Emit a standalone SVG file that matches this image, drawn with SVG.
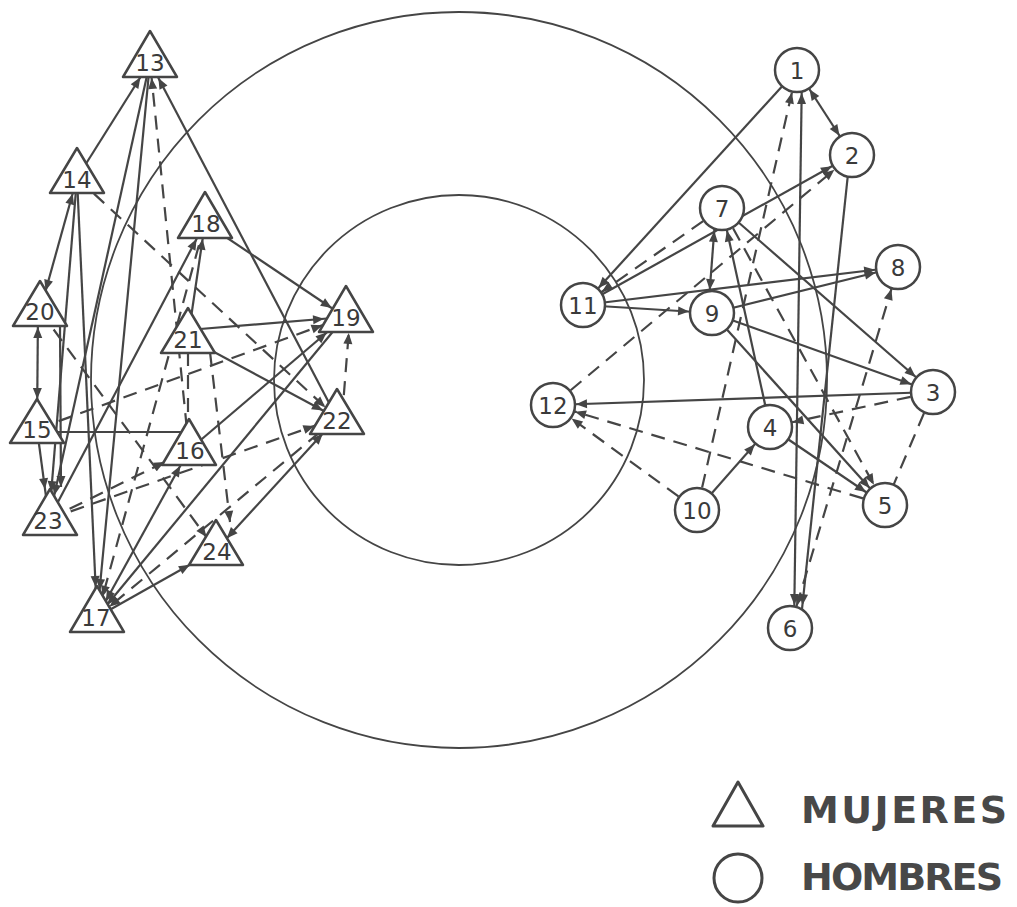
<svg xmlns="http://www.w3.org/2000/svg" width="1017" height="907" viewBox="0 0 1017 907">
<style>
.s{stroke:#454545;stroke-width:2.2;fill:none}
.d{stroke:#454545;stroke-width:2.2;fill:none;stroke-dasharray:14 9}
.ring{stroke:#454545;stroke-width:1.8;fill:none}
.nc{fill:#fff;stroke:#454545;stroke-width:2.5}
.nt{fill:#fff;stroke:#454545;stroke-width:2.5;stroke-linejoin:round}
.lb{font-family:"DejaVu Sans",sans-serif;font-size:23px;fill:#3a3a3a;text-anchor:middle}
.lg{font-family:"DejaVu Sans","Liberation Sans",sans-serif;font-weight:bold;font-size:38px;fill:#484848}
</style>
<defs>
<marker id="c" markerUnits="userSpaceOnUse" orient="auto-start-reverse" refX="23" refY="0" overflow="visible"><path d="M0,0 L-11,-4.5 L-11,4.5 Z" fill="#454545"/></marker>
<marker id="a0" markerUnits="userSpaceOnUse" orient="auto-start-reverse" refX="0" refY="0" overflow="visible"><path d="M0,0 L-11,-4.5 L-11,4.5 Z" fill="#454545"/></marker>
<marker id="t15" markerUnits="userSpaceOnUse" orient="auto-start-reverse" refX="16" refY="0" overflow="visible"><path d="M0,0 L-11,-4.5 L-11,4.5 Z" fill="#454545"/></marker>
<marker id="t17" markerUnits="userSpaceOnUse" orient="auto-start-reverse" refX="18" refY="0" overflow="visible"><path d="M0,0 L-11,-4.5 L-11,4.5 Z" fill="#454545"/></marker>
<marker id="t20" markerUnits="userSpaceOnUse" orient="auto-start-reverse" refX="21" refY="0" overflow="visible"><path d="M0,0 L-11,-4.5 L-11,4.5 Z" fill="#454545"/></marker>
<marker id="t23" markerUnits="userSpaceOnUse" orient="auto-start-reverse" refX="24" refY="0" overflow="visible"><path d="M0,0 L-11,-4.5 L-11,4.5 Z" fill="#454545"/></marker>
<marker id="t26" markerUnits="userSpaceOnUse" orient="auto-start-reverse" refX="27" refY="0" overflow="visible"><path d="M0,0 L-11,-4.5 L-11,4.5 Z" fill="#454545"/></marker>
<marker id="t29" markerUnits="userSpaceOnUse" orient="auto-start-reverse" refX="30" refY="0" overflow="visible"><path d="M0,0 L-11,-4.5 L-11,4.5 Z" fill="#454545"/></marker>
</defs>
<rect x="0" y="0" width="1017" height="907" fill="#ffffff"/>
<g id="rings">
<circle class="ring" cx="459" cy="380" r="368"/>
<circle class="ring" cx="459" cy="380" r="185"/>
</g>
<g id="connectors">
<line class="s" x1="797" y1="70" x2="583" y2="305" marker-end="url(#c)"/>
<line class="s" x1="583" y1="305" x2="852" y2="155" marker-end="url(#c)"/>
<line class="d" x1="553" y1="405" x2="852" y2="155" marker-end="url(#c)"/>
<line class="d" x1="722" y1="208" x2="583" y2="305" marker-end="url(#c)"/>
<line class="s" x1="583" y1="305" x2="898" y2="267" marker-end="url(#c)"/>
<line class="s" x1="583" y1="305" x2="712" y2="313" marker-end="url(#c)"/>
<line class="s" x1="797" y1="70" x2="852" y2="155" marker-start="url(#c)" marker-end="url(#c)"/>
<line class="d" x1="697" y1="510" x2="797" y2="70" marker-end="url(#c)"/>
<line class="s" x1="802" y1="70" x2="794" y2="628" marker-start="url(#c)" marker-end="url(#c)"/>
<line class="s" x1="850" y1="155" x2="800" y2="628" marker-end="url(#c)"/>
<line class="s" x1="722" y1="208" x2="933" y2="392" marker-end="url(#c)"/>
<line class="s" x1="770" y1="427" x2="722" y2="208" marker-end="url(#c)"/>
<line class="s" x1="712" y1="313" x2="885" y2="505" marker-end="url(#c)"/>
<line class="s" x1="712" y1="313" x2="933" y2="392" marker-end="url(#c)"/>
<line class="s" x1="712" y1="313" x2="898" y2="267" marker-end="url(#c)"/>
<line class="s" x1="708" y1="313" x2="716" y2="208" marker-start="url(#c)" marker-end="url(#c)"/>
<line class="s" x1="770" y1="427" x2="885" y2="505" marker-end="url(#c)"/>
<line class="d" x1="933" y1="392" x2="770" y2="427" marker-end="url(#c)"/>
<line class="s" x1="933" y1="392" x2="553" y2="405" marker-end="url(#c)"/>
<line class="d" x1="885" y1="505" x2="553" y2="405" marker-end="url(#c)"/>
<line class="d" x1="697" y1="510" x2="553" y2="405" marker-end="url(#c)"/>
<line class="s" x1="697" y1="510" x2="770" y2="427" marker-end="url(#c)"/>
<line class="d" x1="933" y1="392" x2="885" y2="505"/>
<line class="d" x1="790" y1="628" x2="898" y2="267" marker-start="url(#c)" marker-end="url(#c)"/>
<line class="d" x1="722" y1="208" x2="885" y2="505" marker-end="url(#c)"/>
<line class="s" x1="77" y1="178" x2="150" y2="62" marker-end="url(#t17)"/>
<line class="s" x1="150" y1="62" x2="49" y2="519" marker-end="url(#t23)"/>
<line class="s" x1="337" y1="418" x2="150" y2="62" marker-end="url(#t17)"/>
<line class="d" x1="77" y1="178" x2="337" y2="418" marker-end="url(#t15)"/>
<line class="s" x1="77" y1="178" x2="40" y2="311" marker-start="url(#t15)" marker-end="url(#t20)"/>
<line class="s" x1="77" y1="178" x2="49" y2="519" marker-end="url(#t26)"/>
<line class="s" x1="77" y1="178" x2="97" y2="617" marker-end="url(#t29)"/>
<line class="s" x1="38" y1="311" x2="37" y2="429" marker-start="url(#t15)" marker-end="url(#t29)"/>
<line class="s" x1="60" y1="326" x2="61" y2="487" marker-end="url(#a0)"/>
<line class="s" x1="205" y1="223" x2="345" y2="317" marker-end="url(#t15)"/>
<line class="d" x1="189" y1="450" x2="150" y2="62" marker-end="url(#t15)"/>
<line class="s" x1="188" y1="338" x2="205" y2="223" marker-end="url(#t15)"/>
<line class="s" x1="49" y1="519" x2="205" y2="223" marker-end="url(#t17)"/>
<line class="s" x1="188" y1="330" x2="345" y2="317" marker-end="url(#t20)"/>
<line class="s" x1="188" y1="338" x2="337" y2="418" marker-end="url(#t15)"/>
<line class="d" x1="37" y1="429" x2="345" y2="317" marker-end="url(#t23)"/>
<line class="s" x1="37" y1="432" x2="189" y2="432"/>
<line class="s" x1="189" y1="450" x2="345" y2="317" marker-end="url(#t23)"/>
<line class="d" x1="49" y1="519" x2="337" y2="418" marker-end="url(#t23)"/>
<line class="d" x1="49" y1="519" x2="189" y2="450" marker-end="url(#t26)"/>
<line class="s" x1="97" y1="617" x2="189" y2="450" marker-start="url(#t17)" marker-end="url(#t17)"/>
<line class="s" x1="97" y1="617" x2="216" y2="550" marker-end="url(#t29)"/>
<line class="d" x1="337" y1="418" x2="97" y2="617" marker-end="url(#t15)"/>
<line class="s" x1="337" y1="418" x2="216" y2="550" marker-start="url(#t20)" marker-end="url(#t15)"/>
<line class="d" x1="342" y1="418" x2="350" y2="317" marker-end="url(#t15)"/>
<line class="s" x1="345" y1="317" x2="97" y2="617" marker-end="url(#t15)"/>
<line class="d" x1="40" y1="311" x2="216" y2="550" marker-end="url(#t15)"/>
<line class="d" x1="210" y1="352" x2="230" y2="522" marker-end="url(#a0)"/>
<line class="d" x1="188" y1="352" x2="188" y2="420"/>
<line class="d" x1="205" y1="223" x2="97" y2="617" marker-end="url(#t20)"/>
<line class="s" x1="150" y1="62" x2="97" y2="617" marker-end="url(#t26)"/>
<line class="s" x1="37" y1="429" x2="49" y2="519" marker-end="url(#t29)"/>
</g>
<g id="n1"><circle class="nc" cx="797" cy="70" r="22"/><text class="lb" x="797" y="79">1</text></g>
<g id="n2"><circle class="nc" cx="852" cy="155" r="22"/><text class="lb" x="852" y="164">2</text></g>
<g id="n3"><circle class="nc" cx="933" cy="392" r="22"/><text class="lb" x="933" y="401">3</text></g>
<g id="n4"><circle class="nc" cx="770" cy="427" r="22"/><text class="lb" x="770" y="436">4</text></g>
<g id="n5"><circle class="nc" cx="885" cy="505" r="22"/><text class="lb" x="885" y="514">5</text></g>
<g id="n6"><circle class="nc" cx="790" cy="628" r="22"/><text class="lb" x="790" y="637">6</text></g>
<g id="n7"><circle class="nc" cx="722" cy="208" r="22"/><text class="lb" x="722" y="217">7</text></g>
<g id="n8"><circle class="nc" cx="898" cy="267" r="22"/><text class="lb" x="898" y="276">8</text></g>
<g id="n9"><circle class="nc" cx="712" cy="313" r="22"/><text class="lb" x="712" y="322">9</text></g>
<g id="n10"><circle class="nc" cx="697" cy="510" r="22"/><text class="lb" x="697" y="519">10</text></g>
<g id="n11"><circle class="nc" cx="583" cy="305" r="22"/><text class="lb" x="583" y="314">11</text></g>
<g id="n12"><circle class="nc" cx="553" cy="405" r="22"/><text class="lb" x="553" y="414">12</text></g>
<g id="n13"><path class="nt" d="M150,31 L177,77 L123,77 Z"/><text class="lb" x="150" y="71">13</text></g>
<g id="n14"><path class="nt" d="M77,148 L104,193 L50,193 Z"/><text class="lb" x="77" y="188">14</text></g>
<g id="n15"><path class="nt" d="M37,399 L64,443 L10,443 Z"/><text class="lb" x="37" y="438">15</text></g>
<g id="n16"><path class="nt" d="M189,419 L216,465 L162,465 Z"/><text class="lb" x="190" y="459">16</text></g>
<g id="n17"><path class="nt" d="M97,586 L124,632 L70,632 Z"/><text class="lb" x="96" y="626">17</text></g>
<g id="n18"><path class="nt" d="M205,192 L232,238 L178,238 Z"/><text class="lb" x="206" y="232">18</text></g>
<g id="n19"><path class="nt" d="M346,286 L373,332 L319,332 Z"/><text class="lb" x="346" y="326">19</text></g>
<g id="n20"><path class="nt" d="M40,281 L67,326 L13,326 Z"/><text class="lb" x="40" y="320">20</text></g>
<g id="n21"><path class="nt" d="M188,308 L215,353 L161,353 Z"/><text class="lb" x="188" y="348">21</text></g>
<g id="n22"><path class="nt" d="M337,389 L364,434 L310,434 Z"/><text class="lb" x="337" y="429">22</text></g>
<g id="n23"><path class="nt" d="M50,489 L77,535 L23,535 Z"/><text class="lb" x="48" y="529">23</text></g>
<g id="n24"><path class="nt" d="M216,520 L243,565 L189,565 Z"/><text class="lb" x="217" y="560">24</text></g>
<g id="legend">
<path d="M738,782 L763,826 L713,826 Z" fill="none" stroke="#454545" stroke-width="3" stroke-linejoin="round"/>
<circle cx="738" cy="878" r="24" fill="none" stroke="#454545" stroke-width="3"/>
<text class="lg" x="801" y="823" textLength="206" lengthAdjust="spacing">MUJERES</text>
<text class="lg" x="801" y="890" textLength="202" lengthAdjust="spacing">HOMBRES</text>
</g>
</svg>
